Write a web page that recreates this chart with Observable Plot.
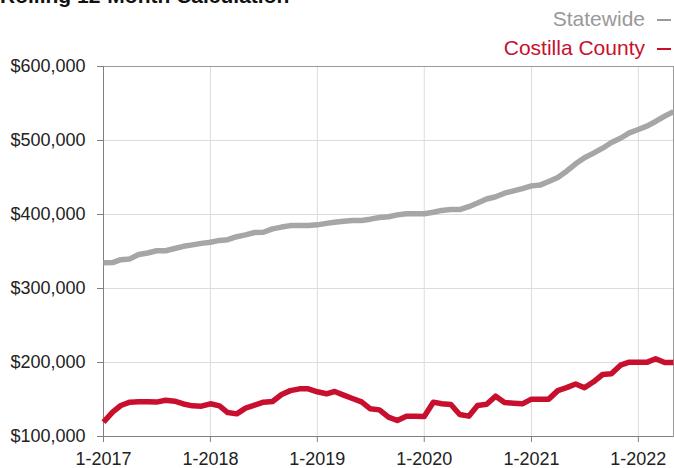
<!DOCTYPE html>
<html><head><meta charset="utf-8">
<script src="https://cdn.jsdelivr.net/npm/d3@7"></script>
<script src="https://cdn.jsdelivr.net/npm/@observablehq/plot@0.6"></script>
<style>
body{margin:0;background:#fff;font-family:"Liberation Sans",Arial,sans-serif;}
#wrap{position:relative;width:674px;height:468px;overflow:hidden;}
#head{position:relative;height:56px;}
#title{position:absolute;left:0;top:-15px;font-size:21px;font-weight:bold;line-height:21px;color:#111;white-space:nowrap;}
.leg{position:absolute;right:3px;font-size:21px;line-height:21px;white-space:nowrap;}
.dash{display:inline-block;width:14px;height:2px;margin-left:12px;vertical-align:middle;}
</style></head>
<body>
<div id="wrap">
  <div id="head">
    <div id="title">Rolling 12-Month Calculation</div>
    <div class="leg" style="top:8px;color:#999;">Statewide<span class="dash" style="background:#999;"></span></div>
    <div class="leg" style="top:37px;color:#c8102e;">Costilla County<span class="dash" style="background:#c8102e;"></span></div>
  </div>
  <div id="chart"></div>
</div>
<script>
// Monthly data, 1-2017 through 5-2022
const startMonth = "2017-01-01";
const endMonthExclusive = "2022-06-01";
const statewide = [334700,335000,339000,340000,346000,348000,351000,351000,354000,357000,359000,361000,
  362500,365000,366000,370000,372500,375700,376000,380600,383000,385000,385000,385000,
  386000,388000,389600,391000,392000,392000,393700,396000,397000,399500,401000,401000,
  401000,403000,405500,406700,406700,410500,415500,421000,424000,428800,432000,435000,
  438700,440000,444600,450000,458500,468500,476600,482900,489600,497300,503000,510300,
  514900,519800,525700,533000,539000];
const costilla = [119400,132900,141900,146400,146800,146800,146500,149000,147700,144000,141400,141000,
  144200,141400,132400,130600,138300,142300,146400,147300,156800,162000,164400,164400,
  160400,157700,160800,155900,151400,146800,137400,136000,126100,121600,127500,127500,
  127000,146400,144200,143200,129700,127500,141900,143600,154500,146000,145000,144100,
  150500,150500,150500,162000,166000,171000,165800,173900,183800,184700,196400,200500,
  200500,200500,205000,200000,200000];
const yTicks = [100000,200000,300000,400000,500000,600000];
const xTickYears = [2017,2018,2019,2020,2021,2022];

const months = d3.utcMonths(new Date(startMonth), new Date(endMonthExclusive));
const table = months.map((d,i)=>({date:d, statewide:statewide[i], costilla:costilla[i]}));
const xTicks = xTickYears.map(y=>new Date(Date.UTC(y,0,1)));

const chart = Plot.plot({
  width:674, height:412,
  marginTop:10, marginBottom:32, marginLeft:103, marginRight:1,
  x:{type:"utc", domain:[months[0], months[months.length-1]], label:null},
  y:{domain:[100000,600000], label:null},
  style:{fontSize:"18px", fontFamily:"'Liberation Sans', Arial, sans-serif", color:"#222", background:"transparent", overflow:"visible"},
  marks:[
    Plot.gridY(yTicks,{stroke:"#dcdcdc", strokeOpacity:1}),
    Plot.gridX(xTicks,{stroke:"#dcdcdc", strokeOpacity:1}),
    Plot.frame({stroke:"#9a9a9a"}),
    Plot.ruleX([months[0]],{stroke:"#808080"}),
    Plot.ruleY([100000],{stroke:"#808080"}),
    Plot.axisY(yTicks,{tickSize:6, tickPadding:12, stroke:"#808080", label:null,
      tickFormat:d=>"$"+d3.format(",")(d)}),
    Plot.axisX(xTicks,{tickSize:6, tickPadding:10, stroke:"#808080", label:null,
      tickFormat:d=>"1-"+d.getUTCFullYear()}),
    Plot.line(table,{x:"date", y:"statewide", stroke:"#a6a6a6", strokeWidth:5.5, strokeLinejoin:"round", strokeLinecap:"butt"}),
    Plot.line(table,{x:"date", y:"costilla", stroke:"#c8102e", strokeWidth:5.5, strokeLinejoin:"round", strokeLinecap:"butt"})
  ]
});
document.getElementById("chart").appendChild(chart);
</script>
</body></html>
